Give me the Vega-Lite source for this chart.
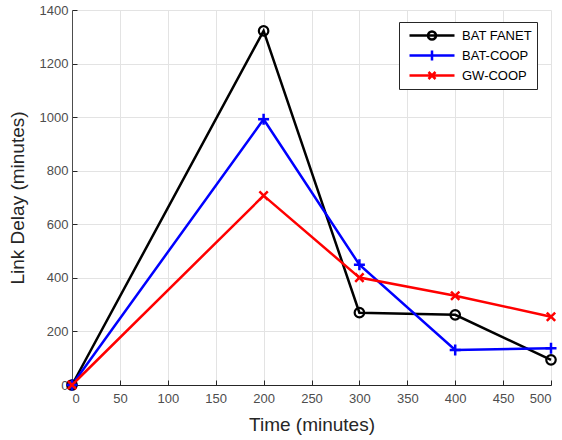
{
  "$schema": "https://vega.github.io/schema/vega-lite/v6.json",
  "width": 479,
  "height": 375,
  "autosize": "none",
  "padding": {"left": 72, "top": 10, "right": 11, "bottom": 55},
  "background": "white",
  "config": {
    "view": {"stroke": null},
    "font": "Liberation Sans",
    "axis": {
      "labelFont": "Liberation Sans",
      "titleFont": "Liberation Sans",
      "labelFontSize": 13,
      "labelColor": "#4d4d4d",
      "titleFontSize": 19,
      "titleFontWeight": "normal",
      "titleColor": "#262626",
      "gridColor": "#e3e3e3",
      "gridWidth": 1,
      "domainColor": "#262626",
      "tickColor": "#262626",
      "tickSize": -5,
      "labelPadding": 9,
      "format": "d"
    },
    "legend": {
      "labelFont": "Liberation Sans",
      "labelFontSize": 13,
      "labelColor": "#000000"
    }
  },
  "data": {
    "values": [
      {"time": 0, "delay": 0, "series": "BAT FANET"},
      {"time": 200, "delay": 1322, "series": "BAT FANET"},
      {"time": 300, "delay": 270, "series": "BAT FANET"},
      {"time": 400, "delay": 262, "series": "BAT FANET"},
      {"time": 500, "delay": 94, "series": "BAT FANET"},
      {"time": 0, "delay": 0, "series": "BAT-COOP"},
      {"time": 200, "delay": 992, "series": "BAT-COOP"},
      {"time": 300, "delay": 449, "series": "BAT-COOP"},
      {"time": 400, "delay": 131, "series": "BAT-COOP"},
      {"time": 500, "delay": 137, "series": "BAT-COOP"},
      {"time": 0, "delay": 0, "series": "GW-COOP"},
      {"time": 200, "delay": 707, "series": "GW-COOP"},
      {"time": 300, "delay": 401, "series": "GW-COOP"},
      {"time": 400, "delay": 333, "series": "GW-COOP"},
      {"time": 500, "delay": 255, "series": "GW-COOP"}
    ]
  },
  "encoding": {
    "x": {
      "field": "time", "type": "quantitative",
      "scale": {"domain": [0, 500], "nice": false, "zero": false},
      "axis": {"title": "Time (minutes)", "values": [0,50,100,150,200,250,300,350,400,450,500], "labelPadding": 12, "titlePadding": 10}
    },
    "y": {
      "field": "delay", "type": "quantitative",
      "scale": {"domain": [0, 1400], "nice": false},
      "axis": {"title": "Link Delay (minutes)", "values": [0,200,400,600,800,1000,1200,1400], "titlePadding": 12, "domainColor": "#4d4d4d"}
    },
    "color": {
      "field": "series", "type": "nominal",
      "scale": {"domain": ["BAT FANET", "BAT-COOP", "GW-COOP"], "range": ["#000000", "#0000ff", "#ff0000"]}
    }
  },
  "layer": [
    {
      "mark": {"type": "point", "filled": false, "opacity": 0, "strokeWidth": 2.5},
      "encoding": {
        "color": {
          "field": "series", "type": "nominal",
          "legend": {
            "title": null,
            "orient": "none",
            "legendX": 327,
            "legendY": 12,
            "strokeColor": "#262626",
            "fillColor": "white",
            "padding": 4.5,
            "symbolSize": 225,
            "symbolStrokeWidth": 2.5,
            "symbolOpacity": 1,
            "rowPadding": 0,
            "labelOffset": 40.5,
            "labelExpr": "datum.label + '\u00a0\u00a0\u00a0'",
            "symbolFillColor": "transparent"
          }
        },
        "shape": {
          "field": "series", "type": "nominal",
          "scale": {
            "domain": ["BAT FANET", "BAT-COOP", "GW-COOP"],
            "range": [
              "M-0.4,0H5.6M2.067,0A0.533,0.533 0 1,1 3.133,0A0.533,0.533 0 1,1 2.067,0",
              "M-0.4,0H5.6M2.6,-0.667V0.667",
              "M-0.4,0H5.6M2.133,-0.467L3.067,0.467M2.133,0.467L3.067,-0.467"
            ]
          },
          "legend": {
            "title": null,
            "orient": "none",
            "legendX": 327,
            "legendY": 12,
            "strokeColor": "#262626",
            "fillColor": "white",
            "padding": 4.5,
            "symbolSize": 225,
            "symbolStrokeWidth": 2.5,
            "symbolOpacity": 1,
            "rowPadding": 0,
            "labelOffset": 40.5,
            "labelExpr": "datum.label + '\u00a0\u00a0\u00a0'",
            "symbolFillColor": "transparent"
          }
        }
      }
    },
    {
      "mark": {"type": "line", "strokeWidth": 2.5}
    },
    {
      "transform": [{"filter": "datum.series === 'BAT FANET'"}],
      "mark": {"type": "point", "shape": "circle", "filled": false, "size": 90, "strokeWidth": 2.2, "opacity": 1}
    },
    {
      "transform": [{"filter": "datum.series === 'BAT-COOP'"}],
      "mark": {"type": "point", "shape": "M-1,0H1M0,-1V1", "filled": false, "size": 121, "strokeWidth": 2.5, "opacity": 1}
    },
    {
      "transform": [{"filter": "datum.series === 'GW-COOP'"}],
      "mark": {"type": "point", "shape": "M-1,-1L1,1M-1,1L1,-1", "filled": false, "size": 70, "strokeWidth": 2.5, "opacity": 1}
    }
  ]
}
